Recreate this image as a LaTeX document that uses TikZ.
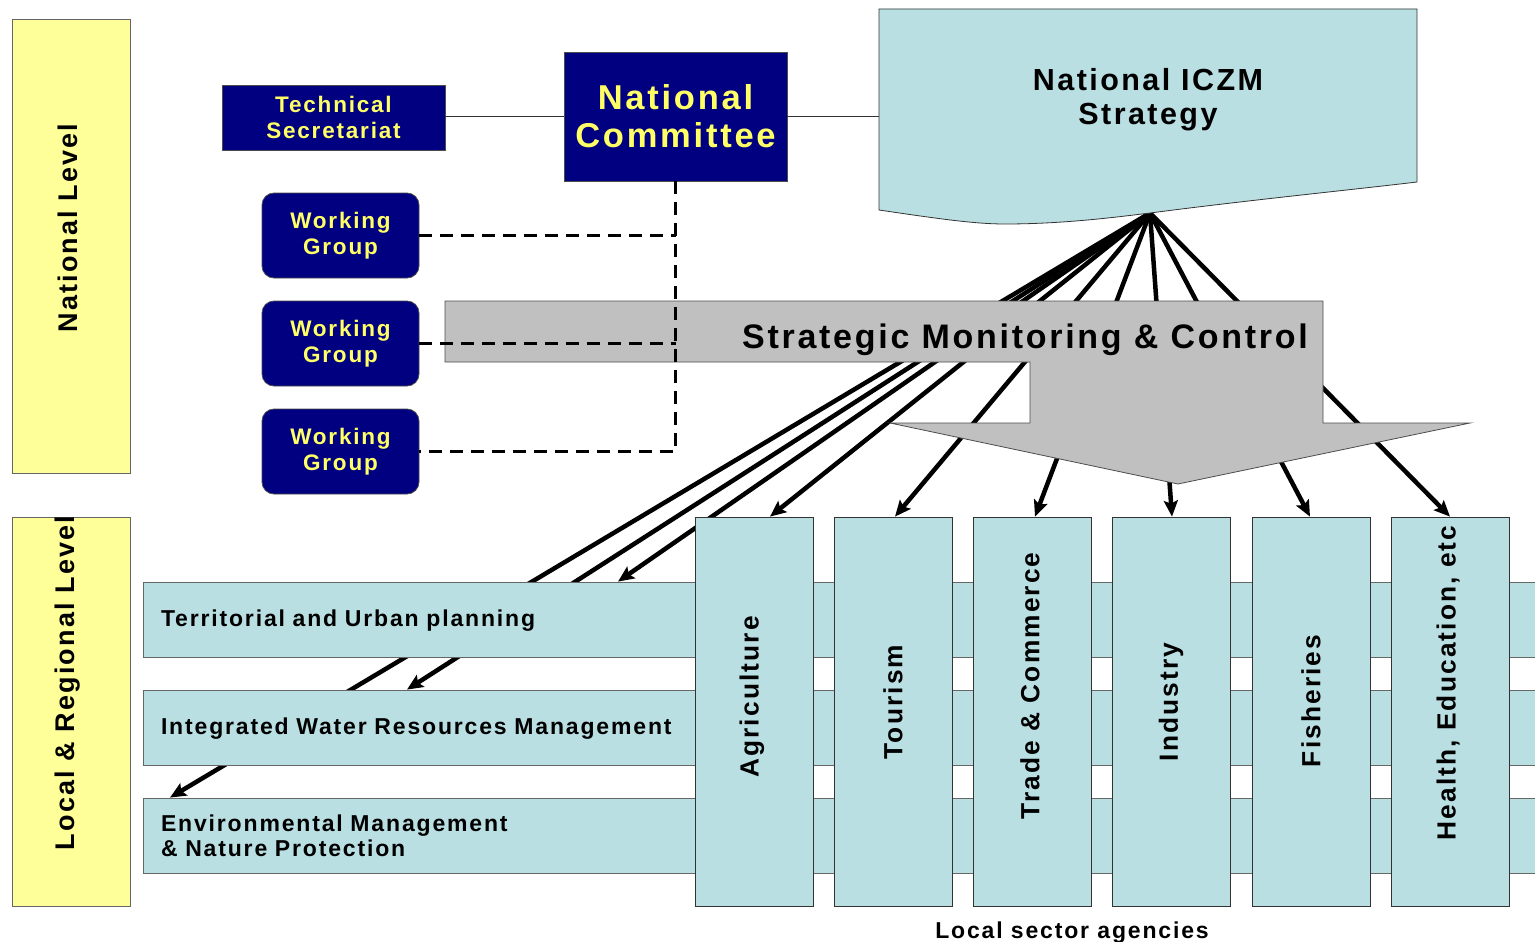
\documentclass[tikz,border=0pt]{standalone}
\usepackage{fontspec}
\setmainfont{Liberation Sans}[LetterSpace=8]
\usetikzlibrary{arrows.meta,calc}
\pgfdeclarelayer{wires}
\pgfsetlayers{wires,main}

\definecolor{navy}{HTML}{000080}
\definecolor{gold}{HTML}{FFFF66}
\definecolor{paleblue}{HTML}{B9DFE3}
\definecolor{paleyellow}{HTML}{FFFF99}
\definecolor{silver}{HTML}{C0C0C0}

\newcommand\txtsize[2]{\fontsize{#1}{#2}\selectfont\bfseries}

\begin{document}
\begin{tikzpicture}[x=1pt,y=-1pt,
  levelpanel/.style={draw=black!60, fill=paleyellow, line width=0.8pt, inner sep=0pt},
  leveltext/.style={rotate=90, font=\txtsize{27}{30}, inner sep=0pt},
  navybox/.style={draw=black!70, fill=navy, text=gold, line width=0.8pt, align=center, inner sep=0pt},
  groupbox/.style={navybox, rounded corners=12pt, minimum width=157pt, minimum height=85pt, font=\txtsize{22.5}{26}},
  band/.style={draw=black!60, fill=paleblue, line width=0.8pt, inner xsep=18pt, inner ysep=0pt,
    text width=1361pt, align=left, minimum height=75pt, font=\txtsize{23}{25}},
  sector/.style={draw=black!80, fill=paleblue, line width=0.8pt, minimum width=118pt, minimum height=389pt, inner sep=0pt},
  sectortext/.style={rotate=90, font=\txtsize{26.3}{30}, inner sep=0pt},
  feed/.style={line width=4.5pt, -{Stealth[length=16pt,width=14pt,inset=3pt]}},
  dashline/.style={line width=3.4pt, dash pattern=on 13pt off 8pt},
  thinlink/.style={draw=black!80, line width=0.8pt}
]
\useasboundingbox (0,0) rectangle (1535,942);
\clip (0,0) rectangle (1535,942);

% level panels on the left
\node[levelpanel, minimum width=118pt, minimum height=454pt] (natpanel) at (71,246) {};
\node[leveltext] (nattext) at (68,228) {National Level};
\node[levelpanel, minimum width=118pt, minimum height=389pt] (locpanel) at (71,711.5) {};
\node[leveltext] (loctext) at (68,683) {Local \& Regional Level};

% national bodies
\node[navybox, minimum width=223pt, minimum height=65pt, font=\txtsize{22.5}{26}] (ts) at (333.5,117.5) {Technical\\Secretariat};
\node[navybox, minimum width=223pt, minimum height=129pt, font=\txtsize{34.5}{38}] (nc) at (675.5,116.5) {National\\Committee};
\node[groupbox] (wg1) at (340.5,235.5) {Working\\Group};
\node[groupbox] (wg2) at (340.5,343.5) {Working\\Group};
\node[groupbox] (wg3) at (340.5,451.5) {Working\\Group};

% strategy document
\filldraw[fill=paleblue, draw=black!80, line width=0.8pt]
  (879,9) -- (1417,9) -- (1417,182)
  .. controls (1350,190) and (1250,200) .. (1150,213)
  .. controls (1110,218) and (1060,224) .. (1005,224)
  .. controls (975,224) and (940,219) .. (879,210) -- cycle;
\node[font=\txtsize{30.5}{34}, align=center, inner sep=0pt] (strat) at (1148,100) {National ICZM\\Strategy};
\coordinate (stratw) at (879,116.5);
\coordinate (src) at (1150,213);

\draw[thinlink] (ts.east |- nc.west) -- (nc.west);
\draw[thinlink] (nc.east) -- (stratw);

% local bands
\node[band, text height=19pt] (terr) at (841.5,619.5) {Territorial and Urban planning};
\node[band, text height=19pt] (iwrm) at (841.5,727.5) {Integrated Water Resources Management};
\node[band, text height=17pt] (env) at (841.5,835.5) {Environmental Management\\\& Nature Protection};

% sector columns
\node[sector] (agri) at (754,711.5) {};
\node[sector] (tour) at (893,711.5) {};
\node[sector] (trade) at (1032,711.5) {};
\node[sector] (ind) at (1171,711.5) {};
\node[sector] (fish) at (1311,711.5) {};
\node[sector] (health) at (1450,711.5) {};
\node[sectortext] (agriT) at (752,697) {Agriculture};
\node[sectortext] (tourT) at (893,702) {Tourism};
\node[sectortext] (tradeT) at (1030,686) {Trade \& Commerce};
\node[sectortext] (indT) at (1171,702) {Industry};
\node[sectortext] (fishT) at (1311,701) {Fisheries};
\node[sectortext] (healthT) at (1448,683) {Health, Education, etc};
\node[font=\txtsize{23}{26}, inner sep=0pt] (lsa) at (1072,933) {Local sector agencies};

% monitoring arrow
\filldraw[fill=silver, draw=black!70, line width=0.8pt]
  (445,301) -- (1323,301) -- (1323,423) -- (1470,423) -- (1178,484)
  -- (890,423) -- (1030,423) -- (1030,362) -- (445,362) -- cycle;
\node[font=\txtsize{34}{40}, inner sep=0pt] (smc) at (1025,339.5) {Strategic Monitoring \& Control};

% working group links
\draw[dashline] (wg1.east) -- (wg1.east -| nc.south);
\draw[dashline] (wg2.east) -- (wg2.east -| nc.south);
\draw[dashline] (nc.south) -- (nc.south |- wg3.east) -- (wg3.east);

% strategy feeds, drawn behind everything else
\begin{pgfonlayer}{wires}
  \draw[feed] (src) -- ([xshift=16pt]agri.north);
  \draw[feed] (src) -- ([xshift=2pt]tour.north);
  \draw[feed] (src) -- ([xshift=3pt]trade.north);
  \draw[feed] (src) -- ([xshift=1pt]ind.north);
  \draw[feed] (src) -- ([xshift=-1pt]fish.north);
  \draw[feed] (src) -- (health.north);
  \draw[feed] (src) -- ([xshift=-223.5pt]terr.north);
  \draw[feed] (src) -- ([xshift=-434.5pt]iwrm.north);
  \draw[feed] (src) -- ([xshift=-671.5pt]env.north);
\end{pgfonlayer}
\end{tikzpicture}
\end{document}
